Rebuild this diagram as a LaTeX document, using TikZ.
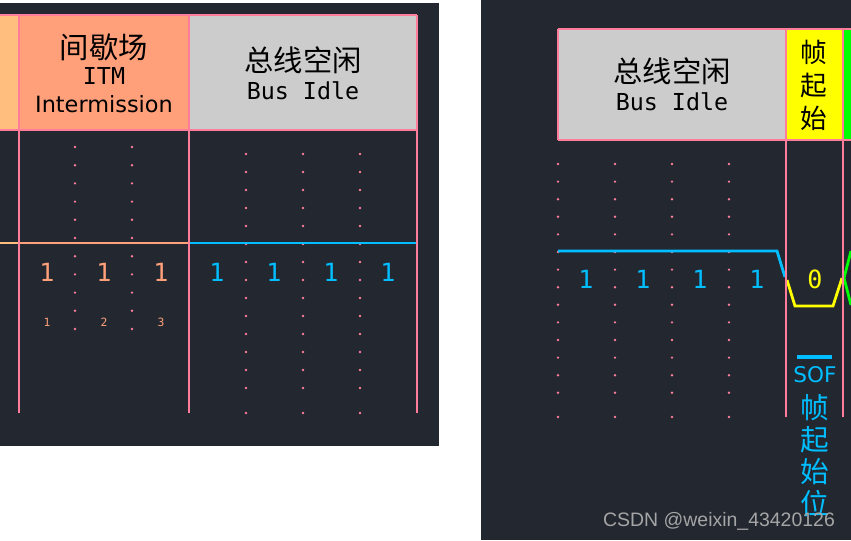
\documentclass[tikz,border=0pt]{standalone}
\usepackage{fontspec}
\newfontfamily\cjkfont{Noto Sans CJK SC}
\newfontfamily\canmono{DejaVu Sans Mono}
\newfontfamily\cansans{DejaVu Sans}
\newfontfamily\markfont{Liberation Sans}
\definecolor{canbg}{RGB}{34,39,48}
\definecolor{canpink}{RGB}{255,125,155}
\definecolor{canorange}{RGB}{255,190,125}
\definecolor{cansalmon}{RGB}{255,160,122}
\definecolor{cangray}{RGB}{204,204,204}
\definecolor{canblue}{RGB}{0,190,255}
\definecolor{canyellow}{RGB}{255,255,0}
\definecolor{cangreen}{RGB}{0,255,0}
\definecolor{canmark}{RGB}{165,165,165}

\begin{document}
\begin{tikzpicture}[x=0.75pt,y=-0.75pt,
    frame/.style={draw=canpink,line width=2.2pt},
    wave/.style={line width=2.1pt},
    zh/.style={inner sep=0pt,font=\cjkfont\fontsize{22}{24}\selectfont},
    en/.style={inner sep=0pt,font=\canmono\fontsize{17.5}{20}\selectfont},
    bit/.style={inner sep=0pt,font=\canmono\fontsize{18.8}{20}\selectfont},
    idx/.style={inner sep=0pt,font=\canmono\fontsize{8.5}{10}\selectfont,text=cansalmon},
    vzh/.style={inner sep=0pt,align=center,font=\cjkfont\fontsize{20}{24.5}\selectfont}]
    \useasboundingbox (0,0) rectangle (851,540);
    \fill [white] (0,0) rectangle (851,540);

    % left panel
    \fill [canbg] (0,3) rectangle (439,446);
    \fill [canorange] (0,15) rectangle (19,130);
    \fill [cansalmon] (19,15) rectangle (189,130);
    \fill [cangray] (189,15) rectangle (417,130);
    \foreach \px in {75,132}
        \foreach \k in {0,...,10}
            \fill [canpink] (\px,147+18.2*\k) circle (1pt);
    \foreach \px in {246,303,360} {
        \foreach \k in {0,...,13}
            \fill [canpink] (\px,154+18*\k) circle (1pt);
        \fill [canpink] (\px,413) circle (1pt);
    }
    \draw [wave,canorange] (0,243)--(19,243);
    \draw [wave,cansalmon] (19,243)--(189,243);
    \draw [wave,canblue] (189,243)--(417,243);
    \draw [frame] (0,15)--(417,15);
    \draw [frame] (0,130)--(417,130);
    \draw [frame] (19,15)--(19,413);
    \draw [frame] (189,15)--(189,413);
    \draw [frame] (417,15)--(417,413);

    \node[zh] (itmzh) at (104,47) {间歇场};
    \node[en] (itmabbr) at (104,76) {ITM};
    \node[inner sep=0pt,font=\cansans\fontsize{16.8}{18}\selectfont] (itmname) at (104,104) {Intermission};
    \node[zh] (idlezh) at (303,60) {总线空闲};
    \node[en] (idleen) at (303,91) {Bus Idle};

    \node[bit,text=cansalmon] (itm1) at (47,272.5) {1};
    \node[bit,text=cansalmon] (itm2) at (104,272.5) {1};
    \node[bit,text=cansalmon] (itm3) at (161,272.5) {1};
    \node[idx] (idx1) at (47,322.5) {1};
    \node[idx] (idx2) at (104,322.5) {2};
    \node[idx] (idx3) at (161,322.5) {3};
    \node[bit,text=canblue] (idle1) at (217,272.5) {1};
    \node[bit,text=canblue] (idle2) at (274,272.5) {1};
    \node[bit,text=canblue] (idle3) at (331,272.5) {1};
    \node[bit,text=canblue] (idle4) at (388,272.5) {1};

    % right panel
    \fill [canbg] (481,0) rectangle (851,540);
    \fill [cangray] (558,29) rectangle (786,140);
    \fill [canyellow] (786,29) rectangle (843,140);
    \fill [cangreen] (843,29) rectangle (851,140);
    \foreach \px in {558,615,672,729} {
        \foreach \k in {0,...,13}
            \fill [canpink] (\px,164+17.6*\k) circle (1pt);
        \fill [canpink] (\px,417) circle (1pt);
    }
    \draw [wave,canblue] (558,251)--(777,251)--(785,277);
    \draw [wave,canyellow] (787,280)--(795,306)--(833,306)--(842,278);
    \draw [wave,cangreen] (851,251)--(844,278)--(851,305);
    \draw [frame] (558,29)--(851,29);
    \draw [frame] (558,140)--(851,140);
    \draw [frame] (558,29)--(558,140);
    \draw [frame] (786,29)--(786,417);
    \draw [frame] (843,29)--(843,417);

    \node[zh] (busidlezh) at (672,71.5) {总线空闲};
    \node[en] (busidleen) at (672,102) {Bus Idle};
    \node[vzh] (sofzh) at (814,85.5) {帧\\起\\始};

    \node[bit,text=canblue] (bus1) at (586,279) {1};
    \node[bit,text=canblue] (bus2) at (643,279) {1};
    \node[bit,text=canblue] (bus3) at (700,279) {1};
    \node[bit,text=canblue] (bus4) at (757,279) {1};
    \node[bit,text=canyellow] (sofbit) at (815,279) {0};

    \node[inner sep=0pt,text=canblue,font=\cansans\fontsize{16.2}{18}\selectfont] (sof) at (815,375) {SOF};
    \draw [canblue,line width=2.6pt] (797,357)--(832,357);
    \node[vzh,text=canblue,font=\cjkfont\fontsize{21.5}{24.2}\selectfont] (sofbitzh) at (815,455.5) {帧\\起\\始\\位};

    \node[inner sep=0pt,text=canmark,font=\markfont\fontsize{14.6}{16}\selectfont] (mark) at (719,521) {CSDN @weixin\_43420126};
\end{tikzpicture}
\end{document}
